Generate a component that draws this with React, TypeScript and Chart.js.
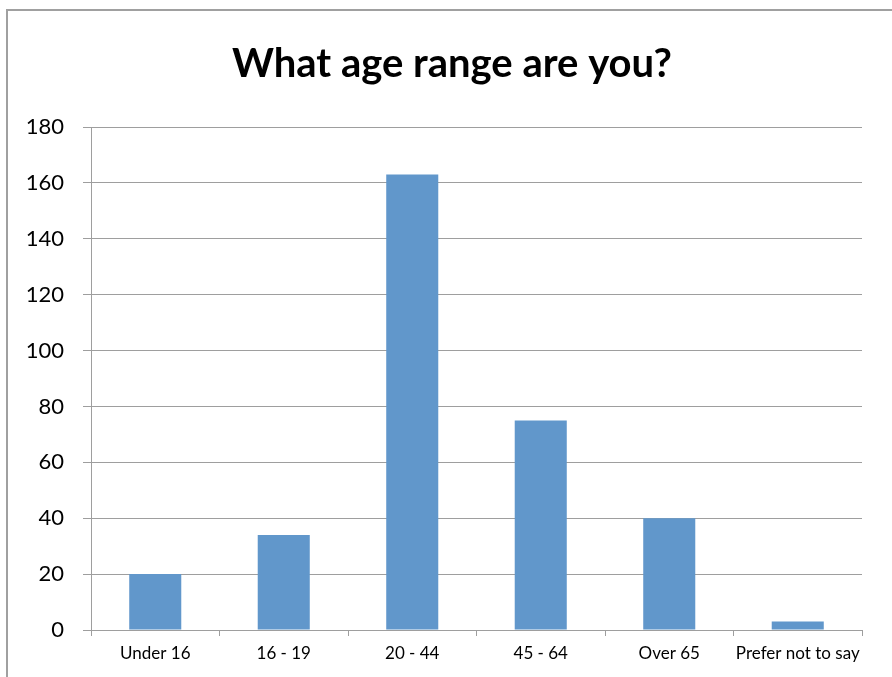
import React, { useEffect, useRef } from "react";
import { Chart, registerables } from "chart.js";

Chart.register(...registerables);

const TITLE = "What age range are you?";
const CATEGORIES = ["Under 16", "16 - 19", "20 - 44", "45 - 64", "Over 65", "Prefer not to say"];
const COUNTS = [20, 34, 163, 75, 40, 3];
const Y_MIN = 0;
const Y_MAX = 180;
const Y_STEP = 20;

const FONT = "Lato, 'Open Sans', 'DejaVu Sans', sans-serif";
const GRID = "#9e9e9e";

// shift the title box so it is centred on the whole frame rather than the padded area
const titleShift = {
  id: "titleShift",
  afterLayout(chart: any) {
    const t = chart.titleBlock;
    if (t) {
      t.left = 42;
      t.right = 862;
    }
  },
};

export default function App() {
  const ref = useRef<HTMLCanvasElement | null>(null);

  useEffect(() => {
    if (!ref.current) return;
    const chart = new Chart(ref.current, {
      type: "bar",
      data: {
        labels: CATEGORIES,
        datasets: [
          {
            label: "Count",
            data: COUNTS,
            backgroundColor: "#6197cb",
            borderWidth: 0,
            barPercentage: 0.405,
            categoryPercentage: 1,
          },
        ],
      },
      plugins: [titleShift],
      options: {
        responsive: false,
        animation: false,
        devicePixelRatio: 1,
        layout: { padding: { top: 0, left: 10, right: 30, bottom: 13 } },
        plugins: {
          legend: { display: false },
          tooltip: { enabled: false },
          title: {
            display: true,
            text: TITLE,
            color: "#000",
            font: { family: FONT, size: 40, weight: "bold" },
            padding: { top: 40, bottom: 39 },
          },
        },
        scales: {
          x: {
            offset: true,
            grid: {
              offset: true,
              drawOnChartArea: false,
              drawTicks: true,
              tickLength: 6,
              color: GRID,
            },
            border: { display: true, color: GRID, width: 1 },
            ticks: {
              color: "#000",
              font: { family: FONT, size: 17 },
              padding: 7,
              maxRotation: 0,
              autoSkip: false,
            },
            afterFit: (s: any) => {
              s.height = 34;
            },
          },
          y: {
            min: Y_MIN,
            max: Y_MAX,
            grid: {
              color: GRID,
              drawTicks: true,
              tickLength: 8,
            },
            border: { display: true, color: GRID, width: 1 },
            ticks: {
              stepSize: Y_STEP,
              color: "#000",
              font: { family: FONT, size: 22 },
              padding: 19,
            },
            afterFit: (s: any) => {
              s.width = 81;
            },
          },
        },
      },
    });
    return () => chart.destroy();
  }, []);

  return (
    <div style={{ position: "absolute", left: 0, top: 0, width: 892, height: 677, background: "#fff", overflow: "hidden" }}>
      <canvas ref={ref} width={892} height={677} style={{ position: "absolute", left: 0, top: 0, width: 892, height: 677 }} />
      <div
        style={{
          position: "absolute",
          left: 6,
          top: 9,
          width: 892,
          height: 677,
          borderLeft: "2px solid #a0a0a0",
          borderTop: "2px solid #a0a0a0",
          boxSizing: "border-box",
          pointerEvents: "none",
        }}
      />
    </div>
  );
}
